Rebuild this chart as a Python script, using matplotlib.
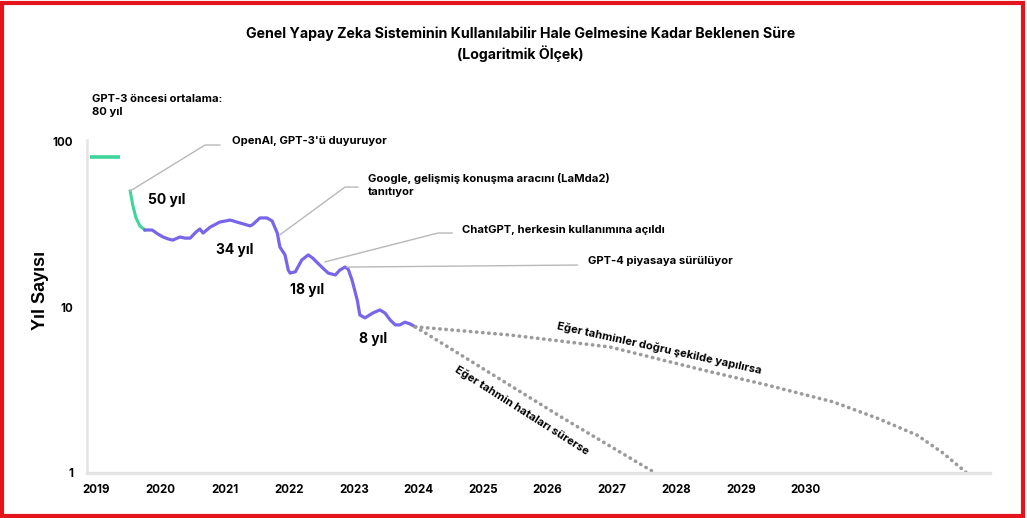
import matplotlib.pyplot as plt
from matplotlib.patches import Rectangle
from matplotlib.ticker import NullLocator

plt.rcParams['font.family'] = ['Inter', 'DejaVu Sans']
plt.rcParams['font.weight'] = 'bold'

# Veriler
pre_years = [2018.91, 2019.37]
pre_values = [80, 80]

drop_years = [2019.53, 2019.57, 2019.62, 2019.68, 2019.76]
drop_values = [50, 41, 34.4, 30.8, 29.1]

hist_years = [2019.76, 2019.87, 2019.96, 2020.04, 2020.12, 2020.19, 2020.30, 2020.38,
              2020.46, 2020.55, 2020.61, 2020.66, 2020.77, 2020.92, 2021.08, 2021.23,
              2021.39, 2021.43, 2021.54, 2021.65, 2021.73, 2021.81, 2021.85, 2021.93,
              2021.98, 2022.01, 2022.09, 2022.19, 2022.29, 2022.36, 2022.50, 2022.60,
              2022.71, 2022.78, 2022.86, 2022.91, 2022.97, 2023.05, 2023.09, 2023.17,
              2023.29, 2023.40, 2023.48, 2023.56, 2023.64, 2023.71, 2023.79, 2023.87,
              2023.95]
hist_values = [29.1, 29.1, 27.5, 26.4, 25.7, 25.3, 26.4, 26.0,
               26.0, 28.3, 29.5, 27.9, 30.3, 32.5, 33.4, 32.1,
               30.8, 31.4, 34.4, 34.4, 33.0, 27.9, 23.0, 20.6,
               16.7, 16.0, 16.3, 19.2, 20.6, 19.7, 17.4, 16.0,
               15.6, 16.7, 17.4, 16.9, 14.5, 11.0, 8.95, 8.6,
               9.2, 9.6, 9.2, 8.35, 7.8, 7.8, 8.1, 7.9,
               7.6]

good_years = [2023.95, 2025.42, 2026.97, 2028.41, 2029.40, 2030.43, 2031.11, 2031.73, 2032.13, 2032.50]
good_values = [7.6, 6.78, 5.74, 4.17, 3.39, 2.68, 2.14, 1.69, 1.32, 1.0]

bad_years = [2023.95, 2025.11, 2026.19, 2027.12, 2027.67]
bad_values = [7.6, 4.0, 2.2, 1.34, 1.0]

year_ticks = list(range(2019, 2031))
y_ticks = [1, 10, 100]

purple = '#7866ea'
green = '#3fd59a'
dots = '#9b9b9b'
leader = '#b8b8b8'

fig = plt.figure(figsize=(10.27, 5.18), dpi=100)
ax = fig.add_axes([0.0847, 0.0869, 0.8793, 0.6428])

ax.plot(pre_years, pre_values, color=green, lw=2.6, solid_capstyle='butt')
ax.plot(drop_years, drop_values, color=green, lw=2.2)
ax.plot(hist_years, hist_values, color=purple, lw=2.3, solid_joinstyle='round')
ax.plot(good_years, good_values, color=dots, lw=2.6, linestyle=(0, (0.1, 1.6)),
        dash_capstyle='round')
ax.plot(bad_years, bad_values, color=dots, lw=2.6, linestyle=(0, (0.1, 1.6)),
        dash_capstyle='round')

ax.set_yscale('log')
ax.set_ylim(1, 101.4)
ax.set_xlim(2018.86, 2032.86)
ax.set_yticks(y_ticks)
ax.set_yticklabels(['1', '10', '100'])
ax.yaxis.set_minor_locator(NullLocator())
ax.set_xticks(year_ticks)
ax.set_xticklabels([str(y) for y in year_ticks])
ax.tick_params(axis='both', length=0, labelsize=8.3, colors='black')
ax.tick_params(axis='x', pad=8)
ax.tick_params(axis='y', pad=10)

for side in ['top', 'right']:
    ax.spines[side].set_visible(False)
ax.spines['left'].set_color('#e4e4e4')
ax.spines['left'].set_linewidth(1.8)
ax.spines['bottom'].set_color('#e4e4e4')
ax.spines['bottom'].set_linewidth(2.4)

# Olay cizgileri
ann = dict(fontsize=8.1, fontweight='bold', va='center', ha='left')
ax.plot([drop_years[0], 2020.69, 2020.92], [drop_values[0], 94.6, 94.6], color=leader, lw=1)
ax.text(2021.11, 100, "OpenAI, GPT-3'ü duyuruyor", clip_on=False, **ann)

ax.plot([2021.85, 2022.86, 2023.06], [27.2, 52.8, 52.8], color=leader, lw=1)
ax.text(2023.22, 54.3, 'Google, gelişmiş konuşma aracını (LaMda2)\ntanıtıyor',
        linespacing=1.45, **ann)

ax.plot([2022.55, 2024.30, 2024.52], [18.7, 27.9, 27.9], color=leader, lw=1)
ax.text(2024.67, 29.1, 'ChatGPT, herkesin kullanımına açıldı', **ann)

ax.plot([2022.89, 2026.46], [17.4, 17.9], color=leader, lw=1)
ax.text(2026.63, 18.9, 'GPT-4 piyasaya sürülüyor', **ann)

big = dict(fontsize=10, fontweight='bold', va='center', ha='left')
ax.text(2019.81, 44.1, '50 yıl', **big)
ax.text(2020.86, 22.0, '34 yıl', **big)
ax.text(2022.01, 12.7, '18 yıl', **big)
ax.text(2023.08, 6.4, '8 yıl', **big)

ax.text(2027.73, 5.66, 'Eğer tahminler doğru şekilde yapılırsa', fontsize=8.1,
        fontweight='bold', rotation=-12.4, ha='center', va='center',
        rotation_mode='anchor')
ax.text(2025.60, 2.40, 'Eğer tahmin hataları sürerse', fontsize=8.1,
        fontweight='bold', rotation=-32.4, ha='center', va='center',
        rotation_mode='anchor')

fig.text(0.0896, 0.818, 'GPT-3 öncesi ortalama:\n80 yıl', fontsize=8.1,
         fontweight='bold', va='top', ha='left', linespacing=1.4)

fig.text(0.507, 0.949, 'Genel Yapay Zeka Sisteminin Kullanılabilir Hale Gelmesine Kadar Beklenen Süre\n(Logaritmik Ölçek)',
         fontsize=10.2, fontweight='bold', ha='center', va='top', linespacing=1.35)

fig.text(0.039, 0.44, 'Yıl Sayısı', rotation=90, fontsize=13, fontweight='bold',
         family=['Liberation Sans', 'DejaVu Sans'], ha='center', va='center')

# kirmizi cerceve
fig.patches.append(Rectangle((0.002, 0.004), 0.994, 0.991, transform=fig.transFigure,
                             fill=False, edgecolor='#e3141b', lw=3))

fig.savefig('out.png', dpi=100)
